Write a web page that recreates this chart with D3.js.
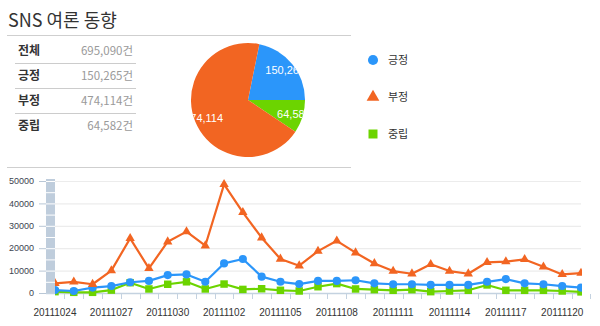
<!DOCTYPE html>
<html>
<head>
<meta charset="utf-8">
<script src="https://cdn.jsdelivr.net/npm/d3@7"></script>
<style>
  html, body { margin: 0; padding: 0; background: #fff; }
  svg { display: block; }
  .kr { font-family: "Noto Sans CJK KR", "Noto Sans", sans-serif; }
  .num { font-family: "Liberation Sans", Arial, sans-serif; }
</style>
</head>
<body>
<svg id="chart" width="600" height="326"></svg>
<script>
// Daily SNS opinion counts, 2011-10-24 .. 2011-11-21
const dates = [
  "20111024","20111025","20111026","20111027","20111028","20111029","20111030",
  "20111031","20111101","20111102","20111103","20111104","20111105","20111106",
  "20111107","20111108","20111109","20111110","20111111","20111112","20111113",
  "20111114","20111115","20111116","20111117","20111118","20111119","20111120",
  "20111121"
];
const positive = [1300, 900, 2400, 3100, 4800, 5400, 8000, 8300, 5000, 13200, 15200, 7300, 5000, 4000,
                  5400, 5400, 5700, 4300, 3900, 3900, 3600, 3600, 3600, 5000, 6200, 4300, 3900, 3100, 2400];
const negative = [4300, 5000, 3900, 10000, 24400, 11000, 22900, 27400, 21100, 48500, 36000, 24700, 15200, 12200,
                  18700, 23300, 18000, 13200, 9800, 8600, 12800, 9800, 8600, 13700, 14000, 15000, 11700, 8300, 8900];
const neutral  = [600, 300, 300, 1300, 4600, 1800, 3900, 5000, 1800, 4000, 1600, 1900, 1200, 900,
                  2800, 4200, 1800, 1500, 1200, 1500, 600, 900, 1200, 3600, 1200, 1200, 1200, 900, 500];

const yTicks = [0, 10000, 20000, 30000, 40000, 50000];
const xLabelEvery = 3;

// Summary table and pie
const summaryLabels = ["전체", "긍정", "부정", "중립"];
const summaryCounts = [695090, 150265, 474114, 64582];
const seriesNames = ["긍정", "부정", "중립"];
const seriesColors = ["#2b96fa", "#f26522", "#6cd400"];
const seriesValues = [positive, negative, neutral];
const pieCounts = [150265, 474114, 64582];

const svg = d3.select("#chart");
const fmt = d3.format(",");

// ---- Title ----
svg.append("text").attr("class", "kr")
  .attr("x", 8).attr("y", 27)
  .attr("font-size", 18).attr("fill", "#333")
  .text("SNS 여론 동향");

svg.append("line").attr("x1", 7).attr("x2", 351).attr("y1", 35.5).attr("y2", 35.5)
  .attr("stroke", "#cfcfcf").attr("stroke-width", 1.2);
svg.append("line").attr("x1", 7).attr("x2", 351).attr("y1", 167.5).attr("y2", 167.5)
  .attr("stroke", "#cfcfcf").attr("stroke-width", 1.2);

// ---- Summary table ----
const rowY = d3.scaleBand().domain(summaryLabels).range([38, 138]);
const rows = svg.append("g").selectAll("g").data(summaryLabels).join("g")
  .attr("transform", d => `translate(0,${rowY(d) + rowY.bandwidth() / 2})`);
rows.append("text").attr("class", "kr")
  .attr("x", 18).attr("dy", "0.36em")
  .attr("font-size", 12).attr("font-weight", "bold").attr("fill", "#333")
  .text(d => d);
rows.append("text").attr("class", "kr")
  .attr("x", 133).attr("dy", "0.36em").attr("text-anchor", "end")
  .attr("font-size", 11.5).attr("fill", "#9a9a9a")
  .text((d, i) => fmt(summaryCounts[i]) + "건");
rows.filter((d, i) => i < summaryLabels.length - 1)
  .append("line")
  .attr("x1", 15).attr("x2", 136)
  .attr("y1", rowY.bandwidth() / 2 + 0.5).attr("y2", rowY.bandwidth() / 2 + 0.5)
  .attr("stroke", "#cccccc");

// ---- Pie ----
const pieCx = 248, pieCy = 100, pieR = 57;
const total = d3.sum(pieCounts);
const firstSpan = pieCounts[0] / total * 2 * Math.PI;
const startA = Math.PI / 2 - firstSpan;
const pieOrder = [0, 2, 1]; // positive, neutral, negative going clockwise
const pieGen = d3.pie().sort(null).value(i => pieCounts[i])
  .startAngle(startA).endAngle(startA + 2 * Math.PI);
const arcs = pieGen(pieOrder);
const arcGen = d3.arc().innerRadius(0).outerRadius(pieR);
const labelArc = d3.arc().innerRadius(48).outerRadius(48);

const defs = svg.append("defs");
defs.append("clipPath").attr("id", "pieClip")
  .append("circle").attr("cx", 0).attr("cy", 0).attr("r", pieR);

const pieG = svg.append("g").attr("transform", `translate(${pieCx},${pieCy})`);
pieG.selectAll("path").data(arcs).join("path")
  .attr("d", arcGen).attr("fill", d => seriesColors[d.data]);
pieG.append("g").attr("clip-path", "url(#pieClip)")
  .selectAll("text").data(arcs).join("text")
  .attr("class", "num")
  .attr("transform", d => `translate(${labelArc.centroid(d)})`)
  .attr("text-anchor", "middle").attr("dy", "0.36em")
  .attr("font-size", 11).attr("fill", "#fff")
  .text(d => fmt(pieCounts[d.data]));

// ---- Legend ----
const legY = d3.scalePoint().domain(seriesNames).range([60, 134]);
const symbols = [d3.symbolCircle, d3.symbolTriangle, d3.symbolSquare];
const legSizes = [80, 70, 81];
const leg = svg.append("g").selectAll("g").data(seriesNames).join("g")
  .attr("transform", d => `translate(373,${legY(d)})`);
leg.append("path")
  .attr("d", (d, i) => d3.symbol(symbols[i], legSizes[i])())
  .attr("fill", (d, i) => seriesColors[i]);
leg.append("text").attr("class", "kr")
  .attr("x", 15).attr("dy", "0.36em")
  .attr("font-size", 11).attr("fill", "#333")
  .text(d => d);

// ---- Line chart ----
const plot = { left: 55, right: 581, top: 181, bottom: 293 };
const x = d3.scalePoint().domain(dates).range([plot.left, plot.right]);
const y = d3.scaleLinear().domain([0, 50000]).range([plot.bottom, plot.top]);
const step = x.step();

// horizontal grid
svg.append("g").selectAll("line").data(yTicks.slice(1)).join("line")
  .attr("x1", 46).attr("x2", plot.right)
  .attr("y1", d => y(d) + 0.5).attr("y2", d => y(d) + 0.5)
  .attr("stroke", "#ececec").attr("stroke-width", 1.2);

// y axis ticks and labels
svg.append("g").selectAll("line").data(yTicks).join("line")
  .attr("x1", 39).attr("x2", 46)
  .attr("y1", d => y(d) + 0.5).attr("y2", d => y(d) + 0.5)
  .attr("stroke", "#b9c7d6");
svg.append("g").selectAll("text").data(yTicks).join("text")
  .attr("class", "num")
  .attr("x", 34).attr("y", d => y(d)).attr("dy", "0.35em")
  .attr("text-anchor", "end").attr("font-size", 9).attr("fill", "#3c4450")
  .text(d => d);

// striped scroller bar along the y axis
svg.append("rect").attr("x", 46).attr("y", y(50000) - 2).attr("width", 9)
  .attr("height", y(0) - y(50000) + 3).attr("fill", "#bfcddc");
svg.append("g").selectAll("line").data(d3.range(0, 50001, 5000)).join("line")
  .attr("x1", 46).attr("x2", 55)
  .attr("y1", d => y(d) + 0.5).attr("y2", d => y(d) + 0.5)
  .attr("stroke", "#fff").attr("stroke-width", 1);

// x axis
svg.append("line").attr("x1", 46).attr("x2", plot.right)
  .attr("y1", plot.bottom + 0.5).attr("y2", plot.bottom + 0.5)
  .attr("stroke", "#c4d2e0").attr("stroke-width", 1.5);
svg.append("g").selectAll("line").data(dates).join("line")
  .attr("x1", d => Math.round(x(d) + step / 2) + 0.5)
  .attr("x2", d => Math.round(x(d) + step / 2) + 0.5)
  .attr("y1", plot.bottom + 1).attr("y2", plot.bottom + 6)
  .attr("stroke", "#c4d2e0");
svg.append("g").selectAll("text")
  .data(dates.filter((d, i) => i % xLabelEvery === 0)).join("text")
  .attr("class", "num")
  .attr("x", d => x(d)).attr("y", 316)
  .attr("text-anchor", "middle").attr("font-size", 10).attr("fill", "#333")
  .text(d => d);

// series
defs.append("clipPath").attr("id", "plotClip")
  .append("rect").attr("x", plot.left).attr("y", 160)
  .attr("width", plot.right - plot.left + 1).attr("height", 145);

const lineGen = d3.line().x((d, i) => x(dates[i])).y(d => y(d));
const markerSizes = [52, 38, 56];
const seriesG = svg.append("g").attr("clip-path", "url(#plotClip)");
[2, 0, 1].forEach(k => {
  const g = seriesG.append("g");
  g.append("path").datum(seriesValues[k])
    .attr("d", lineGen).attr("fill", "none")
    .attr("stroke", seriesColors[k]).attr("stroke-width", 2.2)
    .attr("stroke-linejoin", "round");
  g.selectAll("path.m").data(seriesValues[k]).join("path").attr("class", "m")
    .attr("transform", (d, i) => `translate(${x(dates[i])},${y(d)})`)
    .attr("d", d3.symbol(symbols[k], markerSizes[k])())
    .attr("fill", seriesColors[k]);
});
</script>
</body>
</html>
